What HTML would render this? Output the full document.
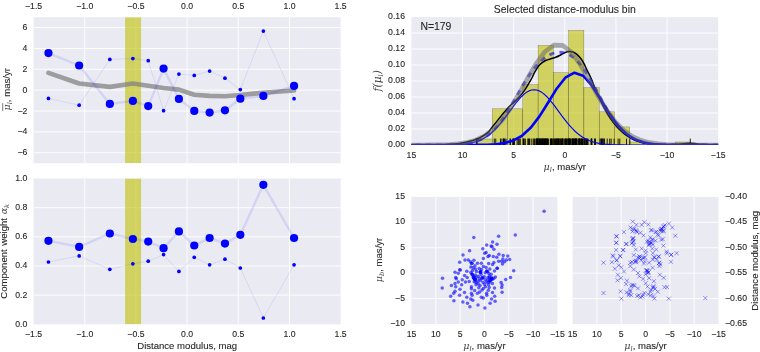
<!DOCTYPE html>
<html lang="en"><head><meta charset="utf-8"><title>Selected distance-modulus bin</title>
<style>html,body{margin:0;padding:0;background:#fff}svg{display:block;will-change:transform}text{stroke:#262626;stroke-width:.1px}.m{stroke:none}</style></head>
<body>
<svg width="760" height="352" viewBox="0 0 760 352" font-family="'Liberation Sans', sans-serif" fill="#262626">
<rect width="760" height="352" fill="#fff"/>
<defs>
</defs>
<clipPath id="cA"><rect x="33.6" y="17.2" width="307" height="146"/></clipPath>
<rect x="33.6" y="17.2" width="307" height="146" fill="#EAEAF2"/>
<path d="M84.77 17.2V163.2M135.93 17.2V163.2M187.1 17.2V163.2M238.27 17.2V163.2M289.43 17.2V163.2M33.6 152.73H340.6M33.6 131.87H340.6M33.6 111.01H340.6M33.6 90.15H340.6M33.6 69.29H340.6M33.6 48.43H340.6M33.6 27.57H340.6" stroke="#fff" stroke-width="0.9" fill="none"/>
<g clip-path="url(#cA)">
<rect x="125.1" y="17.2" width="15.95" height="146" fill="rgb(191,191,0)" fill-opacity="0.6"/>
<polyline points="48.45,72.8 79.15,83.5 109.85,86.9 132.88,83.5 148.22,85.8 163.57,88 178.93,89.6 194.27,94.7 209.62,95.9 224.97,96.2 240.32,95 263.35,92.7 294.05,90.5" fill="none" stroke="#808080" stroke-opacity="0.72" stroke-width="4.6" stroke-linejoin="round" stroke-linecap="round"/>
<polyline points="48.45,53.1 79.15,65.5 109.85,103.9 132.88,100.9 148.22,106.1 163.57,68.6 178.93,98.9 194.27,110.9 209.62,112.6 224.97,110.3 240.32,98.7 263.35,95.9 294.05,85.9" fill="none" stroke="#00f" stroke-opacity="0.1" stroke-width="2.4" stroke-linejoin="round"/>
<polyline points="48.45,98.4 79.15,105.2 109.85,59.4 132.88,58.6 148.22,60.7 163.57,110.7 178.93,74.1 194.27,75.4 209.62,71.1 224.97,78.2 240.32,89.6 263.35,31.1 294.05,98.7" fill="none" stroke="#00f" stroke-opacity="0.1" stroke-width="0.87" stroke-linejoin="round"/>
<circle cx="48.45" cy="53.1" r="4.1" fill="#00f"/>
<circle cx="79.15" cy="65.5" r="4.1" fill="#00f"/>
<circle cx="109.85" cy="103.9" r="4.1" fill="#00f"/>
<circle cx="132.88" cy="100.9" r="4.1" fill="#00f"/>
<circle cx="148.22" cy="106.1" r="4.1" fill="#00f"/>
<circle cx="163.57" cy="68.6" r="4.1" fill="#00f"/>
<circle cx="178.93" cy="98.9" r="4.1" fill="#00f"/>
<circle cx="194.27" cy="110.9" r="4.1" fill="#00f"/>
<circle cx="209.62" cy="112.6" r="4.1" fill="#00f"/>
<circle cx="224.97" cy="110.3" r="4.1" fill="#00f"/>
<circle cx="240.32" cy="98.7" r="4.1" fill="#00f"/>
<circle cx="263.35" cy="95.9" r="4.1" fill="#00f"/>
<circle cx="294.05" cy="85.9" r="4.1" fill="#00f"/>
<circle cx="48.45" cy="98.4" r="1.85" fill="#00f"/>
<circle cx="79.15" cy="105.2" r="1.85" fill="#00f"/>
<circle cx="109.85" cy="59.4" r="1.85" fill="#00f"/>
<circle cx="132.88" cy="58.6" r="1.85" fill="#00f"/>
<circle cx="148.22" cy="60.7" r="1.85" fill="#00f"/>
<circle cx="163.57" cy="110.7" r="1.85" fill="#00f"/>
<circle cx="178.93" cy="74.1" r="1.85" fill="#00f"/>
<circle cx="194.27" cy="75.4" r="1.85" fill="#00f"/>
<circle cx="209.62" cy="71.1" r="1.85" fill="#00f"/>
<circle cx="224.97" cy="78.2" r="1.85" fill="#00f"/>
<circle cx="240.32" cy="89.6" r="1.85" fill="#00f"/>
<circle cx="263.35" cy="31.1" r="1.85" fill="#00f"/>
<circle cx="294.05" cy="98.7" r="1.85" fill="#00f"/>
</g>
<text x="33.6" y="9.2" font-size="8.7" text-anchor="middle" >−1.5</text>
<text x="84.77" y="9.2" font-size="8.7" text-anchor="middle" >−1.0</text>
<text x="135.93" y="9.2" font-size="8.7" text-anchor="middle" >−0.5</text>
<text x="187.1" y="9.2" font-size="8.7" text-anchor="middle" >0.0</text>
<text x="238.27" y="9.2" font-size="8.7" text-anchor="middle" >0.5</text>
<text x="289.43" y="9.2" font-size="8.7" text-anchor="middle" >1.0</text>
<text x="340.6" y="9.2" font-size="8.7" text-anchor="middle" >1.5</text>
<text x="27.3" y="155.23" font-size="8.7" text-anchor="end" >−6</text>
<text x="27.3" y="134.37" font-size="8.7" text-anchor="end" >−4</text>
<text x="27.3" y="113.51" font-size="8.7" text-anchor="end" >−2</text>
<text x="27.3" y="92.65" font-size="8.7" text-anchor="end" >0</text>
<text x="27.3" y="71.79" font-size="8.7" text-anchor="end" >2</text>
<text x="27.3" y="50.93" font-size="8.7" text-anchor="end" >4</text>
<text x="27.3" y="30.07" font-size="8.7" text-anchor="end" >6</text>
<g transform="translate(10.3,89.3) rotate(-90)"><text font-size="9.57" text-anchor="middle"><tspan class="m" font-family="'DejaVu Serif', 'Liberation Serif', serif" font-style="italic" fill="#444">μ</tspan><tspan class="m" font-family="'DejaVu Serif', 'Liberation Serif', serif" font-style="italic" fill="#444" font-size="6.7" dy="1.6">l</tspan><tspan dy="-1.6">, mas/yr</tspan></text></g>
<path d="M2.7 103.1V111.2" stroke="#444" stroke-width="0.7" fill="none"/>
<clipPath id="cB"><rect x="33.6" y="178.5" width="307" height="145.8"/></clipPath>
<rect x="33.6" y="178.5" width="307" height="145.8" fill="#EAEAF2"/>
<path d="M84.77 178.5V324.3M135.93 178.5V324.3M187.1 178.5V324.3M238.27 178.5V324.3M289.43 178.5V324.3M33.6 295.14H340.6M33.6 265.98H340.6M33.6 236.82H340.6M33.6 207.66H340.6" stroke="#fff" stroke-width="0.9" fill="none"/>
<g clip-path="url(#cB)">
<rect x="125.1" y="178.5" width="15.95" height="145.8" fill="rgb(191,191,0)" fill-opacity="0.6"/>
<polyline points="48.45,240.8 79.15,246.9 109.85,233.5 132.88,239 148.22,241.6 163.57,248.2 178.93,231.4 194.27,245.5 209.62,238 224.97,243.6 240.32,234.8 263.35,184.8 294.05,238" fill="none" stroke="#00f" stroke-opacity="0.1" stroke-width="2.4" stroke-linejoin="round"/>
<polyline points="48.45,262 79.15,255.9 109.85,269.3 132.88,263.8 148.22,261.2 163.57,254.6 178.93,271.4 194.27,257.3 209.62,264.8 224.97,259.2 240.32,268 263.35,318 294.05,264.8" fill="none" stroke="#00f" stroke-opacity="0.1" stroke-width="0.87" stroke-linejoin="round"/>
<circle cx="48.45" cy="240.8" r="4.1" fill="#00f"/>
<circle cx="79.15" cy="246.9" r="4.1" fill="#00f"/>
<circle cx="109.85" cy="233.5" r="4.1" fill="#00f"/>
<circle cx="132.88" cy="239" r="4.1" fill="#00f"/>
<circle cx="148.22" cy="241.6" r="4.1" fill="#00f"/>
<circle cx="163.57" cy="248.2" r="4.1" fill="#00f"/>
<circle cx="178.93" cy="231.4" r="4.1" fill="#00f"/>
<circle cx="194.27" cy="245.5" r="4.1" fill="#00f"/>
<circle cx="209.62" cy="238" r="4.1" fill="#00f"/>
<circle cx="224.97" cy="243.6" r="4.1" fill="#00f"/>
<circle cx="240.32" cy="234.8" r="4.1" fill="#00f"/>
<circle cx="263.35" cy="184.8" r="4.1" fill="#00f"/>
<circle cx="294.05" cy="238" r="4.1" fill="#00f"/>
<circle cx="48.45" cy="262" r="1.85" fill="#00f"/>
<circle cx="79.15" cy="255.9" r="1.85" fill="#00f"/>
<circle cx="109.85" cy="269.3" r="1.85" fill="#00f"/>
<circle cx="132.88" cy="263.8" r="1.85" fill="#00f"/>
<circle cx="148.22" cy="261.2" r="1.85" fill="#00f"/>
<circle cx="163.57" cy="254.6" r="1.85" fill="#00f"/>
<circle cx="178.93" cy="271.4" r="1.85" fill="#00f"/>
<circle cx="194.27" cy="257.3" r="1.85" fill="#00f"/>
<circle cx="209.62" cy="264.8" r="1.85" fill="#00f"/>
<circle cx="224.97" cy="259.2" r="1.85" fill="#00f"/>
<circle cx="240.32" cy="268" r="1.85" fill="#00f"/>
<circle cx="263.35" cy="318" r="1.85" fill="#00f"/>
<circle cx="294.05" cy="264.8" r="1.85" fill="#00f"/>
</g>
<text x="33.6" y="337" font-size="8.7" text-anchor="middle" >−1.5</text>
<text x="84.77" y="337" font-size="8.7" text-anchor="middle" >−1.0</text>
<text x="135.93" y="337" font-size="8.7" text-anchor="middle" >−0.5</text>
<text x="187.1" y="337" font-size="8.7" text-anchor="middle" >0.0</text>
<text x="238.27" y="337" font-size="8.7" text-anchor="middle" >0.5</text>
<text x="289.43" y="337" font-size="8.7" text-anchor="middle" >1.0</text>
<text x="340.6" y="337" font-size="8.7" text-anchor="middle" >1.5</text>
<text x="27.3" y="326.8" font-size="8.7" text-anchor="end" >0.0</text>
<text x="27.3" y="297.64" font-size="8.7" text-anchor="end" >0.2</text>
<text x="27.3" y="268.48" font-size="8.7" text-anchor="end" >0.4</text>
<text x="27.3" y="239.32" font-size="8.7" text-anchor="end" >0.6</text>
<text x="27.3" y="210.16" font-size="8.7" text-anchor="end" >0.8</text>
<text x="27.3" y="181" font-size="8.7" text-anchor="end" >1.0</text>
<text x="187.2" y="349" font-size="9.57" text-anchor="middle" >Distance modulus, mag</text>
<g transform="translate(7.3,251.3) rotate(-90)"><text font-size="9.57" text-anchor="middle" word-spacing="1">Component weight <tspan class="m" font-family="'DejaVu Serif', 'Liberation Serif', serif" font-style="italic" fill="#444">α</tspan><tspan class="m" font-family="'DejaVu Serif', 'Liberation Serif', serif" font-style="italic" fill="#444" font-size="6.7" dy="1.6">k</tspan></text></g>
<clipPath id="cC"><rect x="411.4" y="17.1" width="306.8" height="127.9"/></clipPath>
<rect x="411.4" y="17.1" width="306.8" height="127.9" fill="#EAEAF2"/>
<path d="M462.53 17.1V145M513.67 17.1V145M564.8 17.1V145M615.93 17.1V145M667.07 17.1V145M411.4 129.01H718.2M411.4 113.03H718.2M411.4 97.04H718.2M411.4 81.05H718.2M411.4 65.06H718.2M411.4 49.08H718.2M411.4 33.09H718.2" stroke="#fff" stroke-width="0.9" fill="none"/>
<g clip-path="url(#cC)">
<rect x="477" y="138.97" width="15.27" height="6.03" fill="rgb(191,191,0)" fill-opacity="0.6" stroke="#000" stroke-opacity="0.55" stroke-width="0.35"/>
<rect x="492.27" y="108.84" width="15.27" height="36.16" fill="rgb(191,191,0)" fill-opacity="0.6" stroke="#000" stroke-opacity="0.55" stroke-width="0.35"/>
<rect x="507.54" y="108.84" width="15.27" height="36.16" fill="rgb(191,191,0)" fill-opacity="0.6" stroke="#000" stroke-opacity="0.55" stroke-width="0.35"/>
<rect x="522.81" y="84.73" width="15.27" height="60.27" fill="rgb(191,191,0)" fill-opacity="0.6" stroke="#000" stroke-opacity="0.55" stroke-width="0.35"/>
<rect x="538.09" y="45.55" width="15.27" height="99.45" fill="rgb(191,191,0)" fill-opacity="0.6" stroke="#000" stroke-opacity="0.55" stroke-width="0.35"/>
<rect x="553.36" y="72.67" width="15.27" height="72.33" fill="rgb(191,191,0)" fill-opacity="0.6" stroke="#000" stroke-opacity="0.55" stroke-width="0.35"/>
<rect x="568.63" y="30.48" width="15.27" height="114.52" fill="rgb(191,191,0)" fill-opacity="0.6" stroke="#000" stroke-opacity="0.55" stroke-width="0.35"/>
<rect x="583.9" y="87.74" width="15.27" height="57.26" fill="rgb(191,191,0)" fill-opacity="0.6" stroke="#000" stroke-opacity="0.55" stroke-width="0.35"/>
<rect x="599.17" y="111.85" width="15.27" height="33.15" fill="rgb(191,191,0)" fill-opacity="0.6" stroke="#000" stroke-opacity="0.55" stroke-width="0.35"/>
<rect x="614.44" y="126.92" width="15.27" height="18.08" fill="rgb(191,191,0)" fill-opacity="0.6" stroke="#000" stroke-opacity="0.55" stroke-width="0.35"/>
<rect x="629.71" y="141.99" width="15.27" height="3.01" fill="rgb(191,191,0)" fill-opacity="0.6" stroke="#000" stroke-opacity="0.55" stroke-width="0.35"/>
<rect x="675.53" y="141.99" width="15.27" height="3.01" fill="rgb(191,191,0)" fill-opacity="0.6" stroke="#000" stroke-opacity="0.55" stroke-width="0.35"/>
<path d="M411.4 144.9C416.17 144.88 432.73 144.95 440 144.8C447.27 144.65 451.33 144.3 455 144C458.67 143.7 459.53 143.45 462 143C464.47 142.55 467.63 141.85 469.8 141.3C471.97 140.75 473.3 140.3 475 139.7C476.7 139.1 477.87 138.88 480 137.7C482.13 136.52 485.75 134.38 487.8 132.6C489.85 130.82 490.5 129.25 492.3 127C494.1 124.75 496.62 121.55 498.6 119.1C500.58 116.65 502.33 114.48 504.2 112.3C506.07 110.12 508.05 107.78 509.8 106C511.55 104.22 513.1 103.15 514.7 101.6C516.3 100.05 517.95 98.32 519.4 96.7C520.85 95.08 522.2 93.5 523.4 91.9C524.6 90.3 525.53 88.82 526.6 87.1C527.67 85.38 528.83 83.28 529.8 81.6C530.77 79.92 531.67 78.42 532.4 77C533.13 75.58 533.5 74.42 534.2 73.1C534.9 71.78 535.8 70.37 536.6 69.1C537.4 67.83 538.07 66.57 539 65.5C539.93 64.43 541.02 63.57 542.2 62.7C543.38 61.83 544.65 60.96 546.1 60.3C547.55 59.64 549.3 59.25 550.9 58.75C552.5 58.25 554.1 57.92 555.7 57.3C557.3 56.67 558.95 55.78 560.5 55C562.05 54.22 563.58 53.18 565 52.6C566.42 52.02 567.67 51.6 569 51.5C570.33 51.4 571.68 51.52 573 52C574.32 52.48 575.58 53.28 576.9 54.4C578.22 55.52 579.7 57.12 580.9 58.7C582.1 60.28 583.17 62.17 584.1 63.9C585.03 65.63 585.7 67.45 586.5 69.1C587.3 70.75 587.98 71.9 588.9 73.8C589.82 75.7 590.95 77.97 592 80.5C593.05 83.03 593.67 85.42 595.2 89C596.73 92.58 599.18 97.92 601.2 102C603.22 106.08 605.27 110.08 607.3 113.5C609.33 116.92 611.37 119.83 613.4 122.5C615.43 125.17 617.45 127.42 619.5 129.5C621.55 131.58 623.62 133.45 625.7 135C627.78 136.55 629.95 137.73 632 138.8C634.05 139.87 635.83 140.67 638 141.4C640.17 142.13 642.17 142.72 645 143.2C647.83 143.68 651.17 144.05 655 144.3C658.83 144.55 663.83 144.7 668 144.7C672.17 144.7 677 144.48 680 144.3C683 144.12 684.25 143.77 686 143.6C687.75 143.43 689 143.3 690.5 143.3C692 143.3 693.25 143.43 695 143.6C696.75 143.77 698.5 144.1 701 144.3C703.5 144.5 707.13 144.7 710 144.8C712.87 144.9 716.83 144.88 718.2 144.9" fill="none" stroke="#000" stroke-width="1.5"/>
<path d="M542.76 145v-6.4M594.81 145v-6.4M629.86 145v-6.4M582.22 145v-6.4M591.45 145v-6.4M569.84 145v-6.4M579.07 145v-6.4M580.96 145v-6.4M561.65 145v-6.4M584.95 145v-6.4M533.95 145v-6.4M568.58 145v-6.4M565.64 145v-6.4M520.1 145v-6.4M595.44 145v-6.4M575.29 145v-6.4M572.56 145v-6.4M583.69 145v-6.4M604.46 145v-6.4M614.12 145v-6.4M591.03 145v-6.4M562.91 145v-6.4M603.83 145v-6.4M618.11 145v-6.4M611.18 145v-6.4M524.3 145v-6.4M531.22 145v-6.4M542.97 145v-6.4M535.84 145v-6.4M513.17 145v-6.4M539.41 145v-6.4M550.53 145v-6.4M558.71 145v-6.4M574.03 145v-6.4M584.95 145v-6.4M594.81 145v-6.4M601.11 145v-6.4M607.19 145v-6.4M603 145v-6.4M582.22 145v-6.4M545.07 145v-6.4M536.68 145v-6.4M562.91 145v-6.4M568.58 145v-6.4M591.87 145v-6.4M513.17 145v-6.4M546.33 145v-6.4M626.5 145v-6.4M690.3 145v-6.4M477.08 145v-6.4M476.45 145v-6.4M619.78 145v-6.4M609.71 145v-6.4M600.06 145v-6.4M602.16 145v-6.4M601.32 145v-6.4M602.16 145v-6.4M586.21 145v-6.4M514.43 145v-6.4M503.31 145v-6.4M510.24 145v-6.4M504.78 145v-6.4M506.04 145v-6.4M523.46 145v-6.4M528.07 145v-6.4M510.24 145v-6.4M503.31 145v-6.4M495.75 145v-6.4M504.78 145v-6.4M517.16 145v-6.4M525.35 145v-6.4M533.11 145v-6.4M513.8 145v-6.4M503.31 145v-6.4M500.58 145v-6.4M494.29 145v-6.4M512.96 145v-6.4M523.25 145v-6.4M501 145v-6.4M519.89 145v-6.4M529.54 145v-6.4M534.58 145v-6.4M551.58 145v-6.4M566.06 145v-6.4M576.97 145v-6.4M587.47 145v-6.4M580.12 145v-6.4M586.63 145v-6.4M582.01 145v-6.4M569.63 145v-6.4M570.05 145v-6.4M562.7 145v-6.4M558.5 145v-6.4M550.32 145v-6.4M555.15 145v-6.4M559.97 145v-6.4M562.7 145v-6.4M537.73 145v-6.4M537.73 145v-6.4M537.73 145v-6.4M539.2 145v-6.4M528.07 145v-6.4M536.47 145v-6.4M540.67 145v-6.4M547.38 145v-6.4M555.78 145v-6.4M565.43 145v-6.4M573.61 145v-6.4M575.08 145v-6.4M576.55 145v-6.4M572.36 145v-6.4M579.28 145v-6.4M584.74 145v-6.4M572.36 145v-6.4M559.97 145v-6.4M554.31 145v-6.4M546.12 145v-6.4M541.92 145v-6.4M539.2 145v-6.4M546.12 145v-6.4M557.24 145v-6.4M569.63 145v-6.4M579.28 145v-6.4M586.21 145v-6.4M591.66 145v-6.4M588.09 145v-6.4M548.43 145v-6.4M552.21 145v-6.4M558.08 145v-6.4M564.59 145v-6.4M575.71 145v-6.4M543.6 145v-6.4M551.37 145v-6.4M568.79 145v-6.4M578.02 145v-6.4M541.51 145v-6.4M554.1 145v-6.4M576.34 145v-6.4M557.04 145v-6.4M566.69 145v-6.4M547.8 145v-6.4M573.19 145v-6.4M544.44 145v-6.4M528.91 145v-6.4M537.94 145v-6.4M540.04 145v-6.4M542.13 145v-6.4M545.28 145v-6.4M575.71 145v-6.4M578.86 145v-6.4M556.83 145v-6.4M555.78 145v-6.4M557.04 145v-6.4M570.47 145v-6.4M571.73 145v-6.4M544.44 145v-6.4M545.7 145v-6.4M543.18 145v-6.4M560.39 145v-6.4M561.65 145v-6.4M580.96 145v-6.4M582.01 145v-6.4M579.49 145v-6.4M538.99 145v-6.4M540.25 145v-6.4M536.47 145v-6.4M542.34 145v-6.4M575.71 145v-6.4M572.98 145v-6.4M547.38 145v-6.4M552 145v-6.4M566.9 145v-6.4M558.92 145v-6.4M518.42 145v-6.4M574.45 145v-6.4M562.28 145v-6.4M553.26 145v-6.4M567.32 145v-6.4M581.8 145v-6.4" stroke="#000" stroke-width="0.87" fill="none"/>
<polyline points="730.88,145 722.19,145 713.5,145 704.8,145 696.11,145 687.42,144.99 678.73,144.97 670.03,144.89 661.34,144.65 652.65,144.03 643.95,142.58 635.26,139.58 626.57,134.12 617.88,125.4 609.18,113.35 600.49,99.17 591.8,85.5 583.11,75.73 574.41,72.69 565.72,77.31 557.03,88.19 548.34,102.24 539.64,116.14 530.95,127.54 522.26,135.52 513.56,140.39 504.87,142.99 496.18,144.21 487.49,144.72 478.79,144.91 470.1,144.98 461.41,144.99 452.72,145 444.02,145 435.33,145 426.64,145 417.95,145 409.25,145" fill="none" stroke="#00f" stroke-width="2.6" stroke-linejoin="round"/>
<polyline points="723.31,145 720.76,145 718.2,145 715.64,145 713.09,145 710.53,145 707.97,145 705.42,145 702.86,145 700.3,145 697.75,145 695.19,145 692.63,145 690.08,145 687.52,145 684.96,145 682.41,145 679.85,145 677.29,145 674.74,145 672.18,145 669.62,145 667.07,145 664.51,145 661.95,145 659.4,145 656.84,145 654.28,145 651.73,145 649.17,145 646.61,145 644.06,145 641.5,145 638.94,144.99 636.39,144.99 633.83,144.99 631.27,144.98 628.72,144.97 626.16,144.95 623.6,144.93 621.05,144.9 618.49,144.85 615.93,144.79 613.38,144.7 610.82,144.58 608.26,144.42 605.71,144.21 603.15,143.94 600.59,143.59 598.04,143.14 595.48,142.57 592.92,141.87 590.37,141 587.81,139.95 585.25,138.69 582.7,137.2 580.14,135.47 577.58,133.48 575.03,131.22 572.47,128.69 569.91,125.91 567.36,122.9 564.8,119.69 562.24,116.33 559.69,112.87 557.13,109.38 554.57,105.94 552.02,102.63 549.46,99.53 546.9,96.73 544.35,94.32 541.79,92.36 539.23,90.91 536.68,90.02 534.12,89.72 531.56,90.02 529.01,90.91 526.45,92.36 523.89,94.32 521.34,96.73 518.78,99.53 516.22,102.63 513.67,105.94 511.11,109.38 508.55,112.87 506,116.33 503.44,119.69 500.88,122.9 498.33,125.91 495.77,128.69 493.21,131.22 490.66,133.48 488.1,135.47 485.54,137.2 482.99,138.69 480.43,139.95 477.87,141 475.32,141.87 472.76,142.57 470.2,143.14 467.65,143.59 465.09,143.94 462.53,144.21 459.98,144.42 457.42,144.58 454.86,144.7 452.31,144.79 449.75,144.85 447.19,144.9 444.64,144.93 442.08,144.95 439.52,144.97 436.97,144.98 434.41,144.99 431.85,144.99 429.3,144.99 426.74,145 424.18,145 421.63,145 419.07,145 416.51,145 413.96,145 411.4,145 408.84,145 406.29,145" fill="none" stroke="#00f" stroke-width="1.15" stroke-linejoin="round"/>
<polyline points="723.31,145 720.76,145 718.2,145 715.64,145 713.09,145 710.53,145 707.97,145 705.42,145 702.86,145 700.3,145 697.75,145 695.19,145 692.63,145 690.08,144.99 687.52,144.99 684.96,144.99 682.41,144.98 679.85,144.97 677.29,144.96 674.74,144.94 672.18,144.92 669.62,144.88 667.07,144.83 664.51,144.77 661.95,144.68 659.4,144.56 656.84,144.4 654.28,144.19 651.73,143.93 649.17,143.58 646.61,143.15 644.06,142.6 641.5,141.92 638.94,141.09 636.39,140.08 633.83,138.86 631.27,137.41 628.72,135.71 626.16,133.73 623.6,131.46 621.05,128.88 618.49,125.98 615.93,122.76 613.38,119.24 610.82,115.42 608.26,111.34 605.71,107.03 603.15,102.54 600.59,97.93 598.04,93.26 595.48,88.59 592.92,83.99 590.37,79.53 587.81,75.28 585.25,71.29 582.7,67.62 580.14,64.31 577.58,61.39 575.03,58.87 572.47,56.76 569.91,55.08 567.36,53.79 564.8,52.91 562.24,52.39 559.69,52.23 557.13,52.41 554.57,52.92 552.02,53.75 549.46,54.9 546.9,56.35 544.35,58.13 541.79,60.23 539.23,62.66 536.68,65.41 534.12,68.48 531.56,71.86 529.01,75.53 526.45,79.46 523.89,83.6 521.34,87.91 518.78,92.33 516.22,96.81 513.67,101.29 511.11,105.69 508.55,109.97 506,114.08 503.44,117.96 500.88,121.58 498.33,124.91 495.77,127.94 493.21,130.66 490.66,133.07 488.1,135.17 485.54,136.99 482.99,138.54 480.43,139.84 477.87,140.92 475.32,141.81 472.76,142.53 470.2,143.11 467.65,143.57 465.09,143.93 462.53,144.21 459.98,144.42 457.42,144.58 454.86,144.7 452.31,144.78 449.75,144.85 447.19,144.9 444.64,144.93 442.08,144.95 439.52,144.97 436.97,144.98 434.41,144.99 431.85,144.99 429.3,144.99 426.74,145 424.18,145 421.63,145 419.07,145 416.51,145 413.96,145 411.4,145 408.84,145 406.29,145" fill="none" stroke="#00f" stroke-opacity="0.6" stroke-width="2.8" stroke-dasharray="5.2 5.2" stroke-dashoffset="5.2"/>
<polyline points="727.71,145 719.02,145 710.33,145 701.63,144.99 692.94,144.97 684.25,144.92 675.55,144.79 666.86,144.5 658.17,143.87 649.48,142.62 640.78,140.32 632.09,136.39 623.4,130.18 614.71,121.17 606.01,109.19 597.32,94.7 588.63,78.96 579.94,63.95 571.24,52.04 562.55,45.35 553.86,45.15 545.16,51.49 536.47,63.14 527.78,78.03 519.09,93.79 510.39,108.4 501.7,120.55 493.01,129.73 484.32,136.09 475.62,140.14 466.93,142.52 458.24,143.82 449.55,144.47 440.85,144.78 432.16,144.91 423.47,144.97 414.77,144.99 406.08,145" fill="none" stroke="#606060" stroke-opacity="0.5" stroke-width="4.6" stroke-linejoin="round"/>
</g>
<text x="411.4" y="157.6" font-size="8.7" text-anchor="middle" >15</text>
<text x="462.53" y="157.6" font-size="8.7" text-anchor="middle" >10</text>
<text x="513.67" y="157.6" font-size="8.7" text-anchor="middle" >5</text>
<text x="564.8" y="157.6" font-size="8.7" text-anchor="middle" >0</text>
<text x="615.93" y="157.6" font-size="8.7" text-anchor="middle" >−5</text>
<text x="667.07" y="157.6" font-size="8.7" text-anchor="middle" >−10</text>
<text x="718.2" y="157.6" font-size="8.7" text-anchor="middle" >−15</text>
<text x="405" y="146.7" font-size="8.7" text-anchor="end" >0.00</text>
<text x="405" y="130.71" font-size="8.7" text-anchor="end" >0.02</text>
<text x="405" y="114.73" font-size="8.7" text-anchor="end" >0.04</text>
<text x="405" y="98.74" font-size="8.7" text-anchor="end" >0.06</text>
<text x="405" y="82.75" font-size="8.7" text-anchor="end" >0.08</text>
<text x="405" y="66.76" font-size="8.7" text-anchor="end" >0.10</text>
<text x="405" y="50.78" font-size="8.7" text-anchor="end" >0.12</text>
<text x="405" y="34.79" font-size="8.7" text-anchor="end" >0.14</text>
<text x="405" y="18.8" font-size="8.7" text-anchor="end" >0.16</text>
<text x="564.8" y="12.6" font-size="10.43" text-anchor="middle" >Selected distance-modulus bin</text>
<text x="420.4" y="30" font-size="10.43" text-anchor="start" >N=179</text>
<text x="564.8" y="170.4" font-size="9.57" text-anchor="middle"><tspan class="m" font-family="'DejaVu Serif', 'Liberation Serif', serif" font-style="italic" fill="#444">μ</tspan><tspan class="m" font-family="'DejaVu Serif', 'Liberation Serif', serif" font-style="italic" fill="#444" font-size="6.7" dy="1.6">l</tspan><tspan dy="-1.6">, mas/yr</tspan></text>
<g transform="translate(381.2,80.8) rotate(-90)"><text font-size="10.6" text-anchor="middle" class="m" font-family="'DejaVu Serif', 'Liberation Serif', serif" font-style="italic" fill="#444">f(μ<tspan font-size="6.7" dy="1.6">l</tspan><tspan dy="-1.6">)</tspan></text></g>
<clipPath id="cD"><rect x="411.5" y="196.9" width="145.9" height="127.1"/></clipPath>
<rect x="411.5" y="196.9" width="145.9" height="127.1" fill="#EAEAF2"/>
<path d="M435.82 196.9V324M460.13 196.9V324M484.45 196.9V324M508.77 196.9V324M533.08 196.9V324M411.5 222.32H557.4M411.5 247.74H557.4M411.5 273.16H557.4M411.5 298.58H557.4" stroke="#fff" stroke-width="0.9" fill="none"/>
<g clip-path="url(#cD)" fill="#00f" fill-opacity="0.6">
<circle cx="473.8" cy="237.5" r="1.75"/>
<circle cx="498.6" cy="236.2" r="1.75"/>
<circle cx="515.3" cy="235.1" r="1.75"/>
<circle cx="492.6" cy="242.1" r="1.75"/>
<circle cx="497" cy="244.3" r="1.75"/>
<circle cx="486.7" cy="245.1" r="1.75"/>
<circle cx="491.1" cy="246.1" r="1.75"/>
<circle cx="492" cy="246.8" r="1.75"/>
<circle cx="482.8" cy="248.7" r="1.75"/>
<circle cx="493.9" cy="249.3" r="1.75"/>
<circle cx="469.6" cy="250.7" r="1.75"/>
<circle cx="486.1" cy="252.4" r="1.75"/>
<circle cx="484.7" cy="253.3" r="1.75"/>
<circle cx="463" cy="255" r="1.75"/>
<circle cx="498.9" cy="254.2" r="1.75"/>
<circle cx="489.3" cy="255.5" r="1.75"/>
<circle cx="488" cy="256.6" r="1.75"/>
<circle cx="493.3" cy="256.6" r="1.75"/>
<circle cx="503.2" cy="255.5" r="1.75"/>
<circle cx="507.8" cy="255.9" r="1.75"/>
<circle cx="496.8" cy="257.2" r="1.75"/>
<circle cx="483.4" cy="258.6" r="1.75"/>
<circle cx="502.9" cy="258.9" r="1.75"/>
<circle cx="509.7" cy="259.5" r="1.75"/>
<circle cx="506.4" cy="259.9" r="1.75"/>
<circle cx="465" cy="260.1" r="1.75"/>
<circle cx="468.3" cy="260.1" r="1.75"/>
<circle cx="473.9" cy="260.3" r="1.75"/>
<circle cx="470.5" cy="261.8" r="1.75"/>
<circle cx="459.7" cy="262.2" r="1.75"/>
<circle cx="472.2" cy="263.2" r="1.75"/>
<circle cx="477.5" cy="263.2" r="1.75"/>
<circle cx="481.4" cy="263.2" r="1.75"/>
<circle cx="488.7" cy="263.4" r="1.75"/>
<circle cx="493.9" cy="262.5" r="1.75"/>
<circle cx="498.6" cy="261.2" r="1.75"/>
<circle cx="501.6" cy="261.2" r="1.75"/>
<circle cx="504.5" cy="261.8" r="1.75"/>
<circle cx="502.5" cy="264.1" r="1.75"/>
<circle cx="492.6" cy="264.5" r="1.75"/>
<circle cx="474.9" cy="265.8" r="1.75"/>
<circle cx="470.9" cy="267.1" r="1.75"/>
<circle cx="483.4" cy="266.4" r="1.75"/>
<circle cx="486.1" cy="267.4" r="1.75"/>
<circle cx="497.2" cy="268.2" r="1.75"/>
<circle cx="459.7" cy="269.7" r="1.75"/>
<circle cx="475.5" cy="269.1" r="1.75"/>
<circle cx="513.7" cy="270.7" r="1.75"/>
<circle cx="544.1" cy="211.35" r="1.75"/>
<circle cx="442.5" cy="278.2" r="1.75"/>
<circle cx="442.2" cy="288" r="1.75"/>
<circle cx="510.5" cy="277.5" r="1.75"/>
<circle cx="505.7" cy="279.5" r="1.75"/>
<circle cx="501.1" cy="282.4" r="1.75"/>
<circle cx="502.1" cy="285" r="1.75"/>
<circle cx="501.7" cy="287.4" r="1.75"/>
<circle cx="502.1" cy="292.2" r="1.75"/>
<circle cx="494.5" cy="288" r="1.75"/>
<circle cx="460.3" cy="270" r="1.75"/>
<circle cx="455" cy="272.2" r="1.75"/>
<circle cx="458.3" cy="273.2" r="1.75"/>
<circle cx="455.7" cy="277.5" r="1.75"/>
<circle cx="456.3" cy="278.8" r="1.75"/>
<circle cx="464.6" cy="275.5" r="1.75"/>
<circle cx="466.8" cy="271.3" r="1.75"/>
<circle cx="458.3" cy="282.1" r="1.75"/>
<circle cx="455" cy="283.4" r="1.75"/>
<circle cx="451.4" cy="285.4" r="1.75"/>
<circle cx="455.7" cy="286.7" r="1.75"/>
<circle cx="461.6" cy="284.7" r="1.75"/>
<circle cx="465.5" cy="282.1" r="1.75"/>
<circle cx="469.2" cy="281.4" r="1.75"/>
<circle cx="460" cy="289.3" r="1.75"/>
<circle cx="455" cy="291.3" r="1.75"/>
<circle cx="453.7" cy="293.3" r="1.75"/>
<circle cx="450.7" cy="296.2" r="1.75"/>
<circle cx="459.6" cy="295.3" r="1.75"/>
<circle cx="464.5" cy="292.6" r="1.75"/>
<circle cx="453.9" cy="300.8" r="1.75"/>
<circle cx="462.9" cy="302.1" r="1.75"/>
<circle cx="467.5" cy="303.2" r="1.75"/>
<circle cx="469.9" cy="306.8" r="1.75"/>
<circle cx="478" cy="305.1" r="1.75"/>
<circle cx="484.9" cy="308" r="1.75"/>
<circle cx="490.1" cy="303.2" r="1.75"/>
<circle cx="495.1" cy="301.2" r="1.75"/>
<circle cx="491.6" cy="298.9" r="1.75"/>
<circle cx="494.7" cy="296.3" r="1.75"/>
<circle cx="492.5" cy="292.6" r="1.75"/>
<circle cx="486.6" cy="293.3" r="1.75"/>
<circle cx="486.8" cy="295.3" r="1.75"/>
<circle cx="483.3" cy="297.9" r="1.75"/>
<circle cx="481.3" cy="297.2" r="1.75"/>
<circle cx="477.4" cy="293.3" r="1.75"/>
<circle cx="479.7" cy="292" r="1.75"/>
<circle cx="482" cy="290" r="1.75"/>
<circle cx="483.3" cy="288.4" r="1.75"/>
<circle cx="471.4" cy="286.7" r="1.75"/>
<circle cx="471.4" cy="288.7" r="1.75"/>
<circle cx="471.4" cy="293.3" r="1.75"/>
<circle cx="472.1" cy="295.3" r="1.75"/>
<circle cx="466.8" cy="297.2" r="1.75"/>
<circle cx="470.8" cy="298.9" r="1.75"/>
<circle cx="472.8" cy="300.3" r="1.75"/>
<circle cx="476" cy="284.7" r="1.75"/>
<circle cx="480" cy="285.4" r="1.75"/>
<circle cx="484.6" cy="284.5" r="1.75"/>
<circle cx="488.5" cy="284.7" r="1.75"/>
<circle cx="489.2" cy="287.4" r="1.75"/>
<circle cx="489.9" cy="282.1" r="1.75"/>
<circle cx="487.9" cy="280.1" r="1.75"/>
<circle cx="491.2" cy="278.8" r="1.75"/>
<circle cx="493.8" cy="278.2" r="1.75"/>
<circle cx="487.9" cy="277.5" r="1.75"/>
<circle cx="482" cy="278.2" r="1.75"/>
<circle cx="479.3" cy="278.8" r="1.75"/>
<circle cx="475.4" cy="279.5" r="1.75"/>
<circle cx="473.4" cy="277.5" r="1.75"/>
<circle cx="472.1" cy="274.2" r="1.75"/>
<circle cx="475.4" cy="274.9" r="1.75"/>
<circle cx="480.7" cy="271.6" r="1.75"/>
<circle cx="486.6" cy="270.9" r="1.75"/>
<circle cx="491.2" cy="274.2" r="1.75"/>
<circle cx="494.5" cy="270.9" r="1.75"/>
<circle cx="497.1" cy="268.3" r="1.75"/>
<circle cx="495.4" cy="277.1" r="1.75"/>
<circle cx="476.5" cy="271.5" r="1.75"/>
<circle cx="478.3" cy="276.2" r="1.75"/>
<circle cx="481.1" cy="274.5" r="1.75"/>
<circle cx="484.2" cy="276.8" r="1.75"/>
<circle cx="489.5" cy="276" r="1.75"/>
<circle cx="474.2" cy="281.8" r="1.75"/>
<circle cx="477.9" cy="281.2" r="1.75"/>
<circle cx="486.2" cy="281.9" r="1.75"/>
<circle cx="490.6" cy="280.4" r="1.75"/>
<circle cx="473.2" cy="267.8" r="1.75"/>
<circle cx="479.2" cy="268.6" r="1.75"/>
<circle cx="489.8" cy="268.9" r="1.75"/>
<circle cx="480.6" cy="280.6" r="1.75"/>
<circle cx="485.2" cy="272.8" r="1.75"/>
<circle cx="476.2" cy="277.3" r="1.75"/>
<circle cx="488.3" cy="290.2" r="1.75"/>
<circle cx="474.6" cy="290.5" r="1.75"/>
<circle cx="467.2" cy="277.6" r="1.75"/>
<circle cx="471.5" cy="263.5" r="1.75"/>
<circle cx="472.5" cy="270.5" r="1.75"/>
<circle cx="473.5" cy="277.8" r="1.75"/>
<circle cx="475" cy="279.2" r="1.75"/>
<circle cx="489.5" cy="278" r="1.75"/>
<circle cx="491" cy="279.5" r="1.75"/>
<circle cx="480.5" cy="272.2" r="1.75"/>
<circle cx="480" cy="272" r="1.75"/>
<circle cx="480.6" cy="272.6" r="1.75"/>
<circle cx="487" cy="271.2" r="1.75"/>
<circle cx="487.6" cy="271.8" r="1.75"/>
<circle cx="474.6" cy="279.3" r="1.75"/>
<circle cx="475.2" cy="280" r="1.75"/>
<circle cx="474" cy="278.2" r="1.75"/>
<circle cx="482.2" cy="277.4" r="1.75"/>
<circle cx="482.8" cy="278" r="1.75"/>
<circle cx="492" cy="278.5" r="1.75"/>
<circle cx="492.5" cy="279.2" r="1.75"/>
<circle cx="491.3" cy="277.6" r="1.75"/>
<circle cx="472" cy="274" r="1.75"/>
<circle cx="472.6" cy="275" r="1.75"/>
<circle cx="470.8" cy="272.4" r="1.75"/>
<circle cx="473.6" cy="276.2" r="1.75"/>
<circle cx="489.5" cy="280.8" r="1.75"/>
<circle cx="488.2" cy="282.4" r="1.75"/>
<circle cx="476" cy="282.5" r="1.75"/>
<circle cx="478.2" cy="283.8" r="1.75"/>
<circle cx="485.3" cy="279.8" r="1.75"/>
<circle cx="481.5" cy="269.5" r="1.75"/>
<circle cx="462.2" cy="279.8" r="1.75"/>
<circle cx="488.9" cy="273.4" r="1.75"/>
<circle cx="483.1" cy="282.6" r="1.75"/>
<circle cx="478.8" cy="287.8" r="1.75"/>
<circle cx="485.5" cy="286.8" r="1.75"/>
<circle cx="492.4" cy="283.6" r="1.75"/>
</g>
<text x="411.5" y="337.1" font-size="8.7" text-anchor="middle" >15</text>
<text x="435.82" y="337.1" font-size="8.7" text-anchor="middle" >10</text>
<text x="460.13" y="337.1" font-size="8.7" text-anchor="middle" >5</text>
<text x="484.45" y="337.1" font-size="8.7" text-anchor="middle" >0</text>
<text x="508.77" y="337.1" font-size="8.7" text-anchor="middle" >−5</text>
<text x="533.08" y="337.1" font-size="8.7" text-anchor="middle" >−10</text>
<text x="557.4" y="337.1" font-size="8.7" text-anchor="middle" >−15</text>
<text x="405" y="199" font-size="8.7" text-anchor="end" >15</text>
<text x="405" y="224.42" font-size="8.7" text-anchor="end" >10</text>
<text x="405" y="249.84" font-size="8.7" text-anchor="end" >5</text>
<text x="405" y="275.26" font-size="8.7" text-anchor="end" >0</text>
<text x="405" y="300.68" font-size="8.7" text-anchor="end" >−5</text>
<text x="405" y="326.1" font-size="8.7" text-anchor="end" >−10</text>
<text x="484.4" y="349.4" font-size="9.57" text-anchor="middle"><tspan class="m" font-family="'DejaVu Serif', 'Liberation Serif', serif" font-style="italic" fill="#444">μ</tspan><tspan class="m" font-family="'DejaVu Serif', 'Liberation Serif', serif" font-style="italic" fill="#444" font-size="6.7" dy="1.6">l</tspan><tspan dy="-1.6">, mas/yr</tspan></text>
<g transform="translate(382.3,260) rotate(-90)"><text font-size="9.57" text-anchor="middle"><tspan class="m" font-family="'DejaVu Serif', 'Liberation Serif', serif" font-style="italic" fill="#444">μ</tspan><tspan class="m" font-family="'DejaVu Serif', 'Liberation Serif', serif" font-style="italic" fill="#444" font-size="6.7" dy="1.6">b</tspan><tspan dy="-1.6">, mas/yr</tspan></text></g>
<clipPath id="cE"><rect x="572.6" y="196.9" width="145.9" height="127.1"/></clipPath>
<rect x="572.6" y="196.9" width="145.9" height="127.1" fill="#EAEAF2"/>
<path d="M596.92 196.9V324M621.23 196.9V324M645.55 196.9V324M669.87 196.9V324M694.18 196.9V324M572.6 222.32H718.5M572.6 247.74H718.5M572.6 273.16H718.5M572.6 298.58H718.5" stroke="#fff" stroke-width="0.9" fill="none"/>
<path clip-path="url(#cE)" d="M630.8 219.6l4.0 4.0m0 -4.0l-4.0 4.0M642.3 220.2l4.0 4.0m0 -4.0l-4.0 4.0M634.4 222.9l4.0 4.0m0 -4.0l-4.0 4.0M639.7 222.9l4.0 4.0m0 -4.0l-4.0 4.0M646.3 222.5l4.0 4.0m0 -4.0l-4.0 4.0M666.9 221.6l4.0 4.0m0 -4.0l-4.0 4.0M670.2 225.5l4.0 4.0m0 -4.0l-4.0 4.0M628.5 225.5l4.0 4.0m0 -4.0l-4.0 4.0M632.5 226.8l4.0 4.0m0 -4.0l-4.0 4.0M661.4 224.8l4.0 4.0m0 -4.0l-4.0 4.0M660.1 226.8l4.0 4.0m0 -4.0l-4.0 4.0M660.8 229.4l4.0 4.0m0 -4.0l-4.0 4.0M621.9 230.1l4.0 4.0m0 -4.0l-4.0 4.0M630.5 229.4l4.0 4.0m0 -4.0l-4.0 4.0M635.1 230.1l4.0 4.0m0 -4.0l-4.0 4.0M638.4 230.8l4.0 4.0m0 -4.0l-4.0 4.0M641.7 233.4l4.0 4.0m0 -4.0l-4.0 4.0M648.9 228.1l4.0 4.0m0 -4.0l-4.0 4.0M653.5 230.1l4.0 4.0m0 -4.0l-4.0 4.0M655.5 232.7l4.0 4.0m0 -4.0l-4.0 4.0M614.4 234.1l4.0 4.0m0 -4.0l-4.0 4.0M673.3 233.8l4.0 4.0m0 -4.0l-4.0 4.0M631.2 236l4.0 4.0m0 -4.0l-4.0 4.0M630.5 237.3l4.0 4.0m0 -4.0l-4.0 4.0M648.3 235.4l4.0 4.0m0 -4.0l-4.0 4.0M650.9 237.3l4.0 4.0m0 -4.0l-4.0 4.0M653.5 238.7l4.0 4.0m0 -4.0l-4.0 4.0M660.8 237.3l4.0 4.0m0 -4.0l-4.0 4.0M614.4 240.6l4.0 4.0m0 -4.0l-4.0 4.0M624.6 241.9l4.0 4.0m0 -4.0l-4.0 4.0M629.8 241.3l4.0 4.0m0 -4.0l-4.0 4.0M631.8 243l4.0 4.0m0 -4.0l-4.0 4.0M646.9 240l4.0 4.0m0 -4.0l-4.0 4.0M648.9 240.6l4.0 4.0m0 -4.0l-4.0 4.0M646.9 243.3l4.0 4.0m0 -4.0l-4.0 4.0M650.9 242.6l4.0 4.0m0 -4.0l-4.0 4.0M661.4 243.7l4.0 4.0m0 -4.0l-4.0 4.0M639.7 246.6l4.0 4.0m0 -4.0l-4.0 4.0M633.8 247.5l4.0 4.0m0 -4.0l-4.0 4.0M643.7 248.5l4.0 4.0m0 -4.0l-4.0 4.0M650.2 246.6l4.0 4.0m0 -4.0l-4.0 4.0M654.2 247.5l4.0 4.0m0 -4.0l-4.0 4.0M614.1 247.9l4.0 4.0m0 -4.0l-4.0 4.0M621.3 247.9l4.0 4.0m0 -4.0l-4.0 4.0M664.7 249.6l4.0 4.0m0 -4.0l-4.0 4.0M674.6 251.2l4.0 4.0m0 -4.0l-4.0 4.0M669.3 252.5l4.0 4.0m0 -4.0l-4.0 4.0M610.8 253.5l4.0 4.0m0 -4.0l-4.0 4.0M618 253.8l4.0 4.0m0 -4.0l-4.0 4.0M631.8 253.1l4.0 4.0m0 -4.0l-4.0 4.0M637.7 254.4l4.0 4.0m0 -4.0l-4.0 4.0M641 255.8l4.0 4.0m0 -4.0l-4.0 4.0M643.7 251.2l4.0 4.0m0 -4.0l-4.0 4.0M650.9 251.2l4.0 4.0m0 -4.0l-4.0 4.0M652.2 255.1l4.0 4.0m0 -4.0l-4.0 4.0M656.8 254.4l4.0 4.0m0 -4.0l-4.0 4.0M614.7 258.4l4.0 4.0m0 -4.0l-4.0 4.0M633.8 258.4l4.0 4.0m0 -4.0l-4.0 4.0M650.9 257.7l4.0 4.0m0 -4.0l-4.0 4.0M601.5 260.7l4.0 4.0m0 -4.0l-4.0 4.0M609.9 260.2l4.0 4.0m0 -4.0l-4.0 4.0M614.6 258.1l4.0 4.0m0 -4.0l-4.0 4.0M611.2 254.4l4.0 4.0m0 -4.0l-4.0 4.0M618.4 254.4l4.0 4.0m0 -4.0l-4.0 4.0M616.7 263.3l4.0 4.0m0 -4.0l-4.0 4.0M612.9 266.7l4.0 4.0m0 -4.0l-4.0 4.0M619.3 265.3l4.0 4.0m0 -4.0l-4.0 4.0M622 269.6l4.0 4.0m0 -4.0l-4.0 4.0M615.8 272.7l4.0 4.0m0 -4.0l-4.0 4.0M618.9 276.1l4.0 4.0m0 -4.0l-4.0 4.0M615.5 278.3l4.0 4.0m0 -4.0l-4.0 4.0M628.3 260.7l4.0 4.0m0 -4.0l-4.0 4.0M628.3 264.1l4.0 4.0m0 -4.0l-4.0 4.0M631.8 267.5l4.0 4.0m0 -4.0l-4.0 4.0M634.3 259l4.0 4.0m0 -4.0l-4.0 4.0M637.7 254.7l4.0 4.0m0 -4.0l-4.0 4.0M642 255.6l4.0 4.0m0 -4.0l-4.0 4.0M642 261.6l4.0 4.0m0 -4.0l-4.0 4.0M647.1 260.7l4.0 4.0m0 -4.0l-4.0 4.0M652.3 255.6l4.0 4.0m0 -4.0l-4.0 4.0M656.6 254.7l4.0 4.0m0 -4.0l-4.0 4.0M657.4 260.7l4.0 4.0m0 -4.0l-4.0 4.0M657.4 264.1l4.0 4.0m0 -4.0l-4.0 4.0M650.6 265.8l4.0 4.0m0 -4.0l-4.0 4.0M645.4 269.3l4.0 4.0m0 -4.0l-4.0 4.0M645.4 271l4.0 4.0m0 -4.0l-4.0 4.0M636 271l4.0 4.0m0 -4.0l-4.0 4.0M637.4 274.4l4.0 4.0m0 -4.0l-4.0 4.0M641.2 276.9l4.0 4.0m0 -4.0l-4.0 4.0M647.1 276.1l4.0 4.0m0 -4.0l-4.0 4.0M651.9 279.2l4.0 4.0m0 -4.0l-4.0 4.0M657.8 272.7l4.0 4.0m0 -4.0l-4.0 4.0M661.7 275.8l4.0 4.0m0 -4.0l-4.0 4.0M668.9 259.8l4.0 4.0m0 -4.0l-4.0 4.0M669 253l4.0 4.0m0 -4.0l-4.0 4.0M624.9 278.7l4.0 4.0m0 -4.0l-4.0 4.0M624.1 282.1l4.0 4.0m0 -4.0l-4.0 4.0M630 282.9l4.0 4.0m0 -4.0l-4.0 4.0M632.6 283.8l4.0 4.0m0 -4.0l-4.0 4.0M636 286.4l4.0 4.0m0 -4.0l-4.0 4.0M628.3 288.1l4.0 4.0m0 -4.0l-4.0 4.0M643.7 281.2l4.0 4.0m0 -4.0l-4.0 4.0M645.4 284.6l4.0 4.0m0 -4.0l-4.0 4.0M650.6 285.5l4.0 4.0m0 -4.0l-4.0 4.0M653.1 286.9l4.0 4.0m0 -4.0l-4.0 4.0M655.7 289.8l4.0 4.0m0 -4.0l-4.0 4.0M662.5 285.2l4.0 4.0m0 -4.0l-4.0 4.0M665.1 285.2l4.0 4.0m0 -4.0l-4.0 4.0M601.5 291l4.0 4.0m0 -4.0l-4.0 4.0M618.6 289.3l4.0 4.0m0 -4.0l-4.0 4.0M624.6 290.3l4.0 4.0m0 -4.0l-4.0 4.0M626.6 293.2l4.0 4.0m0 -4.0l-4.0 4.0M629.2 293.2l4.0 4.0m0 -4.0l-4.0 4.0M635.2 294.1l4.0 4.0m0 -4.0l-4.0 4.0M638.6 295.4l4.0 4.0m0 -4.0l-4.0 4.0M641.2 292.7l4.0 4.0m0 -4.0l-4.0 4.0M646.3 292.3l4.0 4.0m0 -4.0l-4.0 4.0M651.4 294.1l4.0 4.0m0 -4.0l-4.0 4.0M652.3 296.6l4.0 4.0m0 -4.0l-4.0 4.0M619.4 296.6l4.0 4.0m0 -4.0l-4.0 4.0M666.8 296.6l4.0 4.0m0 -4.0l-4.0 4.0M703.3 296.1l4.0 4.0m0 -4.0l-4.0 4.0M644.5 268l4.0 4.0m0 -4.0l-4.0 4.0M646.6 270.2l4.0 4.0m0 -4.0l-4.0 4.0M631.5 283.2l4.0 4.0m0 -4.0l-4.0 4.0M649.2 287.8l4.0 4.0m0 -4.0l-4.0 4.0M651.5 284.2l4.0 4.0m0 -4.0l-4.0 4.0M640.5 294.5l4.0 4.0m0 -4.0l-4.0 4.0M648.8 293.5l4.0 4.0m0 -4.0l-4.0 4.0M627 291.8l4.0 4.0m0 -4.0l-4.0 4.0M646 238.5l4.0 4.0m0 -4.0l-4.0 4.0M648.2 241.8l4.0 4.0m0 -4.0l-4.0 4.0M634.2 228.3l4.0 4.0m0 -4.0l-4.0 4.0M631.5 239.2l4.0 4.0m0 -4.0l-4.0 4.0M658.2 227.9l4.0 4.0m0 -4.0l-4.0 4.0M642.8 259.5l4.0 4.0m0 -4.0l-4.0 4.0M639.2 258.2l4.0 4.0m0 -4.0l-4.0 4.0M654.9 257.5l4.0 4.0m0 -4.0l-4.0 4.0M630.9 236.6l4.0 4.0m0 -4.0l-4.0 4.0M614.6 234.5l4.0 4.0m0 -4.0l-4.0 4.0M614.2 240.9l4.0 4.0m0 -4.0l-4.0 4.0M634.3 229.3l4.0 4.0m0 -4.0l-4.0 4.0M650 228.3l4.0 4.0m0 -4.0l-4.0 4.0M656.8 233.4l4.0 4.0m0 -4.0l-4.0 4.0M650 237.8l4.0 4.0m0 -4.0l-4.0 4.0M643 255.3l4.0 4.0m0 -4.0l-4.0 4.0M630.6 227l4.0 4.0m0 -4.0l-4.0 4.0M634.2 260.2l4.0 4.0m0 -4.0l-4.0 4.0M644.9 239.7l4.0 4.0m0 -4.0l-4.0 4.0M659 227l4.0 4.0m0 -4.0l-4.0 4.0M662.8 223.1l4.0 4.0m0 -4.0l-4.0 4.0M649.5 241l4.0 4.0m0 -4.0l-4.0 4.0M661.7 224.3l4.0 4.0m0 -4.0l-4.0 4.0M646.9 242.2l4.0 4.0m0 -4.0l-4.0 4.0M620.9 248.1l4.0 4.0m0 -4.0l-4.0 4.0M629.2 284.3l4.0 4.0m0 -4.0l-4.0 4.0M659.1 237.6l4.0 4.0m0 -4.0l-4.0 4.0M624 242.1l4.0 4.0m0 -4.0l-4.0 4.0M660.4 227.3l4.0 4.0m0 -4.0l-4.0 4.0M646.2 270.7l4.0 4.0m0 -4.0l-4.0 4.0M637.5 256.3l4.0 4.0m0 -4.0l-4.0 4.0M632.9 259.7l4.0 4.0m0 -4.0l-4.0 4.0M642.4 290.9l4.0 4.0m0 -4.0l-4.0 4.0M664.8 251.3l4.0 4.0m0 -4.0l-4.0 4.0M644.3 268.5l4.0 4.0m0 -4.0l-4.0 4.0M659.1 229l4.0 4.0m0 -4.0l-4.0 4.0M648.5 289.7l4.0 4.0m0 -4.0l-4.0 4.0M635.7 255.4l4.0 4.0m0 -4.0l-4.0 4.0M651.8 285.5l4.0 4.0m0 -4.0l-4.0 4.0M630.7 240.1l4.0 4.0m0 -4.0l-4.0 4.0M628.3 289.4l4.0 4.0m0 -4.0l-4.0 4.0M661.6 228.8l4.0 4.0m0 -4.0l-4.0 4.0M658.3 262.2l4.0 4.0m0 -4.0l-4.0 4.0M645.4 268.6l4.0 4.0m0 -4.0l-4.0 4.0M636.6 293.2l4.0 4.0m0 -4.0l-4.0 4.0M630 260l4.0 4.0m0 -4.0l-4.0 4.0M656.8 261.2l4.0 4.0m0 -4.0l-4.0 4.0M643.5 272.2l4.0 4.0m0 -4.0l-4.0 4.0M654.5 229.7l4.0 4.0m0 -4.0l-4.0 4.0" stroke="#00f" stroke-opacity="0.7" stroke-width="0.6" fill="none"/>
<text x="572.6" y="337.1" font-size="8.7" text-anchor="middle" >15</text>
<text x="596.92" y="337.1" font-size="8.7" text-anchor="middle" >10</text>
<text x="621.23" y="337.1" font-size="8.7" text-anchor="middle" >5</text>
<text x="645.55" y="337.1" font-size="8.7" text-anchor="middle" >0</text>
<text x="669.87" y="337.1" font-size="8.7" text-anchor="middle" >−5</text>
<text x="694.18" y="337.1" font-size="8.7" text-anchor="middle" >−10</text>
<text x="718.5" y="337.1" font-size="8.7" text-anchor="middle" >−15</text>
<text x="725" y="199" font-size="8.7" text-anchor="start" >−0.40</text>
<text x="725" y="224.42" font-size="8.7" text-anchor="start" >−0.45</text>
<text x="725" y="249.84" font-size="8.7" text-anchor="start" >−0.50</text>
<text x="725" y="275.26" font-size="8.7" text-anchor="start" >−0.55</text>
<text x="725" y="300.68" font-size="8.7" text-anchor="start" >−0.60</text>
<text x="725" y="326.1" font-size="8.7" text-anchor="start" >−0.65</text>
<text x="645.5" y="349.4" font-size="9.57" text-anchor="middle"><tspan class="m" font-family="'DejaVu Serif', 'Liberation Serif', serif" font-style="italic" fill="#444">μ</tspan><tspan class="m" font-family="'DejaVu Serif', 'Liberation Serif', serif" font-style="italic" fill="#444" font-size="6.7" dy="1.6">l</tspan><tspan dy="-1.6">, mas/yr</tspan></text>
<g transform="translate(758,260.8) rotate(-90)"><text font-size="9.57" text-anchor="middle">Distance modulus, mag</text></g>
</svg>
</body></html>
